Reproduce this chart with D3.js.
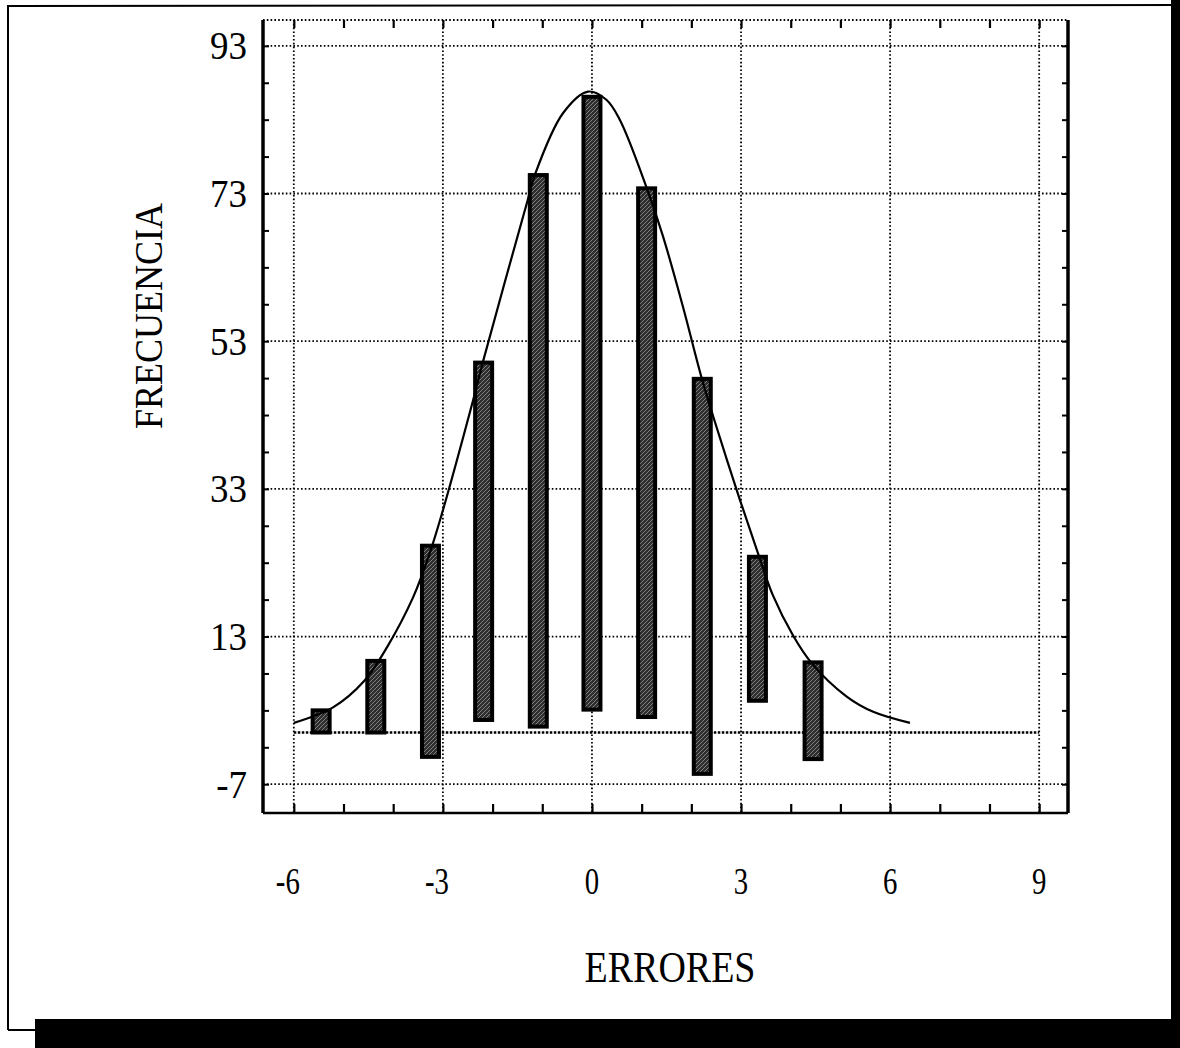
<!DOCTYPE html>
<html>
<head>
<meta charset="utf-8">
<script src="https://cdn.jsdelivr.net/npm/d3@7"></script>
<style>
  html, body { margin: 0; padding: 0; background: #fff; }
  svg { display: block; }
  text { font-family: "Liberation Serif", "DejaVu Serif", serif; fill: #000; }
</style>
</head>
<body>
<svg id="chart" width="1180" height="1048"></svg>
<script>
// Histogram of residuals (ERRORES) with a fitted bell curve.
// Each bar spans from a low to a high frequency value.
const binCenters = [-5.45, -4.35, -3.25, -2.18, -1.08, 0, 1.1, 2.22, 3.33, 4.45];
const barLow     = [0, 0, -3.3, 1.7, 0.8, 3.1, 2.1, -5.6, 4.3, -3.6];
const barHigh    = [3.0, 9.7, 25.3, 50.1, 75.5, 86.1, 73.7, 47.9, 23.8, 9.5];

// Fitted curve, sampled along the error axis.
const curveX = [-6.0, -5.21, -4.58, -4.12, -3.6, -3.27, -3.03, -2.4, -2.19, -1.29, -1.15, -0.58, -0.08, 0.29, 0.56, 1.1, 1.43, 1.83, 2.2, 2.44, 2.91, 3.34, 3.64, 4.05, 4.42, 5.12, 5.66, 6.4];
const curveY = [1.3, 3.4, 7.0, 11.6, 18.3, 24.2, 29.4, 44.8, 50.3, 72.2, 75.5, 83.9, 86.8, 85.7, 83.0, 73.8, 67.2, 57.7, 48.2, 42.8, 32.9, 24.3, 18.6, 13.1, 9.4, 4.9, 2.8, 1.3];

const xTickLabels = [-6, -3, 0, 3, 6, 9];
const yTickLabels = [93, 73, 53, 33, 13, -7];

const xTitle = "ERRORES";
const yTitle = "FRECUENCIA";

const svg = d3.select("#chart");
const plot = { left: 263, right: 1068, top: 20, bottom: 813 };

const x = d3.scaleLinear().domain([-6.62, 9.58]).range([plot.left, plot.right]);
const y = d3.scaleLinear().domain([-10.9, 96.5]).range([plot.bottom, plot.top]);

// Stippled fill for the bars
const defs = svg.append("defs");
const pat = defs.append("pattern")
  .attr("id", "hatch").attr("patternUnits", "userSpaceOnUse")
  .attr("width", 4).attr("height", 4);
pat.append("rect").attr("width", 4).attr("height", 4).attr("fill", "#2e2e2e");
pat.append("path").attr("d", "M0,4 L4,0 M-1,1 L1,-1 M3,5 L5,3")
  .attr("stroke", "#8a8a8a").attr("stroke-width", 0.9);

// Page border
svg.append("line").attr("x1", 8).attr("x2", 8).attr("y1", 5).attr("y2", 1030)
  .attr("stroke", "#000").attr("stroke-width", 2);
svg.append("line").attr("x1", 8).attr("x2", 1180).attr("y1", 6).attr("y2", 5)
  .attr("stroke", "#000").attr("stroke-width", 2);
svg.append("line").attr("x1", 8).attr("x2", 35).attr("y1", 1030).attr("y2", 1030)
  .attr("stroke", "#000").attr("stroke-width", 2);
svg.append("rect").attr("x", 1171).attr("y", 0).attr("width", 9).attr("height", 1048).attr("fill", "#000");
svg.append("rect").attr("x", 35).attr("y", 1019).attr("width", 1145).attr("height", 29).attr("fill", "#000");

// Dotted grid
const grid = svg.append("g").attr("stroke", "#000").attr("stroke-dasharray", "1.6,2.2").attr("stroke-width", 1.8);
grid.selectAll(".gx").data(xTickLabels).join("line")
  .attr("x1", d => x(d)).attr("x2", d => x(d))
  .attr("y1", plot.top).attr("y2", plot.bottom);
grid.selectAll(".gy").data(yTickLabels).join("line")
  .attr("x1", plot.left).attr("x2", plot.right)
  .attr("y1", d => y(d)).attr("y2", d => y(d));
// top frame edge is dotted as well
grid.append("line").attr("x1", plot.left).attr("x2", plot.right)
  .attr("y1", plot.top).attr("y2", plot.top);
// zero reference line
svg.append("line").attr("x1", x(-6)).attr("x2", x(9)).attr("y1", y(0)).attr("y2", y(0))
  .attr("stroke", "#000").attr("stroke-width", 2.6).attr("stroke-dasharray", "2.5,1.5");

// Solid frame edges
svg.append("line").attr("x1", plot.left).attr("x2", plot.left).attr("y1", plot.top).attr("y2", plot.bottom)
  .attr("stroke", "#000").attr("stroke-width", 3.5);
svg.append("line").attr("x1", plot.right).attr("x2", plot.right).attr("y1", plot.top).attr("y2", plot.bottom)
  .attr("stroke", "#000").attr("stroke-width", 3.5);
svg.append("line").attr("x1", plot.left).attr("x2", plot.right).attr("y1", plot.bottom).attr("y2", plot.bottom)
  .attr("stroke", "#000").attr("stroke-width", 2.5);

// Axes with inward ticks
const xMinor = d3.range(-6, 10, 1);
const yMinor = d3.range(-7, 97, 5);
svg.append("g").attr("transform", `translate(0,${plot.bottom})`)
  .call(d3.axisTop(x).tickValues(xMinor).tickSize(9).tickFormat(""))
  .call(g => g.select(".domain").remove())
  .selectAll("line").attr("stroke-width", 2.2);
svg.append("g").attr("transform", `translate(0,${plot.top})`)
  .call(d3.axisBottom(x).tickValues(xMinor).tickSize(8).tickFormat(""))
  .call(g => g.select(".domain").remove())
  .selectAll("line").attr("stroke-width", 2.2);
svg.append("g").attr("transform", `translate(${plot.left},0)`)
  .call(d3.axisRight(y).tickValues(yMinor).tickSize(6).tickFormat(""))
  .call(g => g.select(".domain").remove())
  .selectAll("line").attr("stroke-width", 2);
svg.append("g").attr("transform", `translate(${plot.right},0)`)
  .call(d3.axisLeft(y).tickValues(yMinor).tickSize(6).tickFormat(""))
  .call(g => g.select(".domain").remove())
  .selectAll("line").attr("stroke-width", 2);

// Tick labels
svg.append("g").selectAll("text").data(yTickLabels).join("text")
  .attr("transform", d => `translate(247,${y(d)}) scale(1,1.08)`)
  .attr("text-anchor", "end").attr("dominant-baseline", "central")
  .attr("font-size", 37)
  .text(d => d < 0 ? "-" + Math.abs(d) : d);
svg.append("g").selectAll("text").data(xTickLabels).join("text")
  .attr("transform", d => `translate(${x(d) - (d < 0 ? 6 : 0)},894) scale(0.8,1.08)`)
  .attr("text-anchor", "middle")
  .attr("font-size", 36)
  .text(d => d < 0 ? "-" + Math.abs(d) : d);

// Axis titles
svg.append("text")
  .attr("transform", "translate(670,982) scale(1,1.18)")
  .attr("text-anchor", "middle").attr("font-size", 38)
  .text(xTitle);
svg.append("text")
  .attr("transform", "translate(162,316) rotate(-90) scale(1,1.12)")
  .attr("text-anchor", "middle").attr("font-size", 36)
  .text(yTitle);

// Bars
const barW = 17;
svg.append("g").selectAll("rect").data(binCenters).join("rect")
  .attr("x", d => x(d) - barW / 2)
  .attr("width", barW)
  .attr("y", (d, i) => y(barHigh[i]))
  .attr("height", (d, i) => y(barLow[i]) - y(barHigh[i]))
  .attr("fill", "url(#hatch)")
  .attr("stroke", "#000").attr("stroke-width", 4);

// Fitted curve
const curvePts = curveX.map((v, i) => [v, curveY[i]]);
svg.append("path").datum(curvePts)
  .attr("d", d3.line().x(d => x(d[0])).y(d => y(d[1])).curve(d3.curveCatmullRom.alpha(0.5)))
  .attr("fill", "none").attr("stroke", "#000").attr("stroke-width", 2.2);
</script>
</body>
</html>
